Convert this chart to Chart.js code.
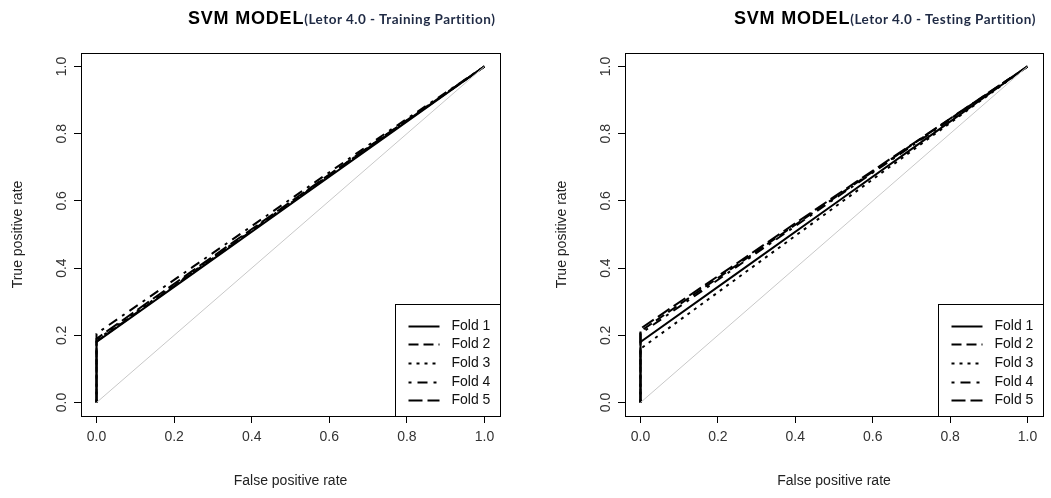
<!DOCTYPE html>
<html><head><meta charset="utf-8">
<script src="https://cdn.jsdelivr.net/npm/chart.js@4.4.1/dist/chart.umd.min.js"></script>
<style>
html,body{margin:0;padding:0;background:#fff;}
#wrap{position:relative;width:1051px;height:498px;overflow:hidden;background:#fff;}
.c{position:absolute;top:0;}
.t{position:absolute;top:8px;white-space:nowrap;line-height:1;}
.t .a{font:bold 18px "Liberation Sans",Arial,sans-serif;color:#000;letter-spacing:0.8px;}
.t .b{font:bold 13.5px Lato,sans-serif;color:#1f2a44;letter-spacing:0.5px;}
</style></head><body>
<div id="wrap">
<canvas id="c1" class="c" style="left:0" width="544" height="498"></canvas>
<canvas id="c2" class="c" style="left:544px" width="507" height="498"></canvas>
<div class="t" style="left:188px"><span class="a">SVM MODEL</span><span class="b">(Letor 4.0 - Training Partition)</span></div>
<div class="t" style="left:734px"><span class="a">SVM MODEL</span><span class="b">(Letor 4.0 - Testing Partition)</span></div>
</div>
<script>
// ---- data ----
const fpr = [0, 0, 0.25, 0.5, 0.75, 1];
const foldLabels = ['Fold 1', 'Fold 2', 'Fold 3', 'Fold 4', 'Fold 5'];
const trainFold1 = [0, 0.180, 0.385, 0.590, 0.795, 1];
const trainFold2 = [0, 0.182, 0.388, 0.593, 0.798, 1];
const trainFold3 = [0, 0.186, 0.390, 0.595, 0.800, 1];
const trainFold4 = [0, 0.205, 0.405, 0.605, 0.805, 1];
const trainFold5 = [0, 0.190, 0.394, 0.597, 0.800, 1];
const testFold1 = [0, 0.180, 0.385, 0.590, 0.795, 1];
const testFold2 = [0, 0.212, 0.410, 0.608, 0.805, 1];
const testFold3 = [0, 0.160, 0.370, 0.580, 0.790, 1];
const testFold4 = [0, 0.205, 0.405, 0.605, 0.802, 1];
const testFold5 = [0, 0.220, 0.415, 0.612, 0.806, 1];
const diagX = [0, 1];
const diagY = [0, 1];
const tickValues = [0, 0.2, 0.4, 0.6, 0.8, 1.0];
const dashes = [[], [10, 5], [3, 5], [3, 6, 10, 6], [14, 5]];

const FONT = '"Liberation Sans", Arial, sans-serif';

const boxLegend = {
  id: 'boxLegend',
  afterDraw(chart) {
    const {ctx, chartArea: a} = chart;
    ctx.save();
    ctx.setLineDash([]);
    ctx.strokeStyle = '#000';
    ctx.lineWidth = 1;
    const L = Math.round(a.left) + 0.5, T = Math.round(a.top) + 0.5;
    const R = Math.round(a.right) + 0.5, B = Math.round(a.bottom) + 0.5;
    ctx.strokeRect(L, T, R - L, B - T);
    // legend box (bottom right)
    const w = 105, h = 112;
    const x0 = R - w, y0 = B - h;
    ctx.fillStyle = '#fff';
    ctx.fillRect(x0, y0, w, h);
    ctx.strokeRect(x0, y0, w, h);
    const folds = chart.data.datasets.filter(d => foldLabels.includes(d.label));
    ctx.font = '14px ' + FONT;
    ctx.textBaseline = 'middle';
    ctx.textAlign = 'left';
    folds.forEach((d, i) => {
      const y = Math.round(y0 + 21 + i * 18.7) + 0.5;
      ctx.strokeStyle = '#000';
      ctx.lineWidth = 2;
      ctx.setLineDash(d.borderDash || []);
      ctx.beginPath();
      ctx.moveTo(x0 + 13, y);
      ctx.lineTo(x0 + 44, y);
      ctx.stroke();
      ctx.setLineDash([]);
      ctx.fillStyle = '#111';
      ctx.fillText(d.label, x0 + 56, y);
    });
    ctx.restore();
  }
};

function scales() {
  const tickFont = {family: FONT, size: 14};
  return {
    x: {
      type: 'linear', min: -0.04, max: 1.04,
      afterBuildTicks: s => { s.ticks = tickValues.map(v => ({value: v})); },
      afterFit: s => { s.height = 82; },
      grid: {display: true, drawOnChartArea: false, drawTicks: true, tickLength: 7, tickColor: '#000', tickWidth: 1},
      border: {display: true, color: '#000'},
      ticks: {padding: 6, color: '#333', font: tickFont, autoSkip: false, maxRotation: 0, callback: v => Number(v).toFixed(1)},
      title: {display: true, text: 'False positive rate', color: '#222', font: tickFont, padding: {top: 0, bottom: 8}}
    },
    y: {
      type: 'linear', min: -0.04, max: 1.04,
      afterBuildTicks: s => { s.ticks = tickValues.map(v => ({value: v})); },
      afterFit: s => { s.width = 81; },
      grid: {display: true, drawOnChartArea: false, drawTicks: true, tickLength: 7, tickColor: '#000', tickWidth: 1},
      border: {display: true, color: '#000'},
      ticks: {padding: 2, color: '#333', font: tickFont, autoSkip: false, minRotation: 90, maxRotation: 90, crossAlign: 'center', callback: v => Number(v).toFixed(1)},
      title: {display: true, text: 'True positive rate', color: '#222', font: tickFont, padding: {top: 10, bottom: 0}}
    }
  };
}

function makeChart(id, folds, padRight) {
  const datasets = [{
    label: 'diag',
    data: diagX.map((x, i) => ({x, y: diagY[i]})),
    borderColor: '#c8c8c8', borderWidth: 1, pointRadius: 0, fill: false
  }];
  folds.forEach((vals, k) => {
    datasets.push({
      label: foldLabels[k],
      data: fpr.map((x, i) => ({x, y: vals[i]})),
      borderColor: '#000', borderWidth: 2, borderDash: dashes[k],
      pointRadius: 0, fill: false, tension: 0
    });
  });
  return new Chart(document.getElementById(id), {
    type: 'line',
    data: {datasets},
    options: {
      responsive: false, animation: false,
      layout: {padding: {left: 0, right: padRight, top: 53, bottom: 0}},
      plugins: {legend: {display: false}, tooltip: {enabled: false}, title: {display: false}},
      scales: scales()
    },
    plugins: [boxLegend]
  });
}

makeChart('c1', [trainFold1, trainFold2, trainFold3, trainFold4, trainFold5], 44);
makeChart('c2', [testFold1, testFold2, testFold3, testFold4, testFold5], 8);
</script>
</body></html>
